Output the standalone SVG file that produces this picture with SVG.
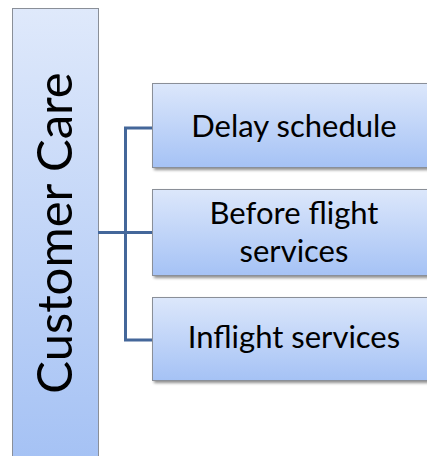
<svg xmlns="http://www.w3.org/2000/svg" width="427" height="456" viewBox="0 0 427 456">
  <defs>
    <linearGradient id="fillTall" x1="0" y1="0" x2="0" y2="1">
      <stop offset="0" stop-color="#dfe9fb"/>
      <stop offset="1" stop-color="#a4c1f4"/>
    </linearGradient>
    <linearGradient id="fillBox" x1="0" y1="0" x2="0" y2="1">
      <stop offset="0" stop-color="#dce7fb"/>
      <stop offset="1" stop-color="#a5c2f5"/>
    </linearGradient>
    <filter id="shadow" x="-10%" y="-10%" width="130%" height="140%">
      <feGaussianBlur in="SourceAlpha" stdDeviation="1.5"/>
      <feOffset dx="1.5" dy="2" result="b"/>
      <feComponentTransfer><feFuncA type="linear" slope="0.45"/></feComponentTransfer>
      <feMerge><feMergeNode/><feMergeNode in="SourceGraphic"/></feMerge>
    </filter>
  </defs>
  <style>
    .tall { fill: url(#fillTall); stroke: #8a8f98; stroke-width: 1; }
    .box { fill: url(#fillBox); stroke: #8a8f98; stroke-width: 1; filter: url(#shadow); }
    .lbl { font-family: Lato, "Open Sans", sans-serif; font-size: 31px; fill: #000; text-anchor: middle; }
    .big { font-family: Lato, "Open Sans", sans-serif; font-size: 49px; fill: #000; text-anchor: middle; }
    .wire { fill: none; stroke: #44679a; stroke-width: 3; }
  </style>

  <g id="customer-care">
    <rect class="tall" x="12.5" y="8.5" width="86" height="460"/>
    <text class="big" transform="translate(72 233) rotate(-90)">Customer Care</text>
  </g>

  <g id="connectors">
    <path class="wire" d="M152 128 H125.5 V340 H152"/>
    <path class="wire" d="M98 232.5 H152"/>
  </g>

  <g id="delay-schedule">
    <rect class="box" x="152.5" y="83.5" width="290" height="84"/>
    <text class="lbl" x="294" y="137">Delay schedule</text>
  </g>

  <g id="before-flight">
    <rect class="box" x="152.5" y="189.5" width="290" height="86"/>
    <text class="lbl"><tspan x="294" y="223.5">Before flight</tspan><tspan x="294" y="261.5">services</tspan></text>
  </g>

  <g id="inflight">
    <rect class="box" x="152.5" y="297.5" width="290" height="83"/>
    <text class="lbl" x="294" y="348">Inflight services</text>
  </g>
</svg>
